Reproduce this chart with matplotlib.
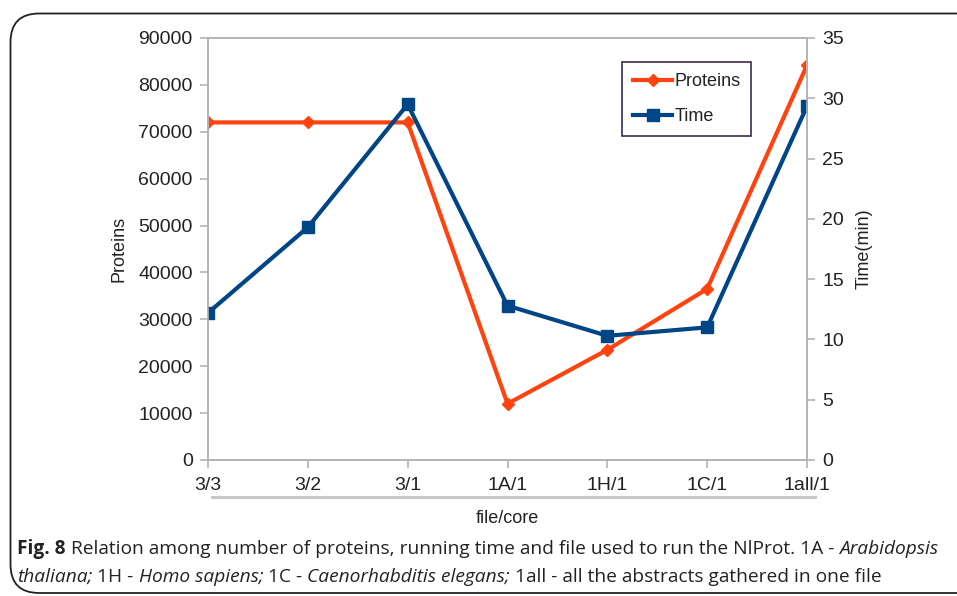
import numpy as np
import matplotlib.pyplot as plt
from matplotlib.patches import FancyBboxPatch
from matplotlib.lines import Line2D

categories = ['3/3', '3/2', '3/1', '1A/1', '1H/1', '1C/1', '1all/1']
proteins = [72000, 72000, 72000, 12000, 23500, 36500, 84200]
time_min = [12.2, 19.3, 29.5, 12.8, 10.3, 11.0, 29.35]

orange = '#FF420E'
blue = '#004586'
gray = '#b3b3b3'
txt = '#222222'

W, H = 957, 596
plt.rcParams['font.family'] = ['Liberation Sans', 'DejaVu Sans']
fig = plt.figure(figsize=(W / 100, H / 100), dpi=100)

# rounded frame around figure
frame = FancyBboxPatch((10.5 / W, 3 / H), 1.2, (H - 13.5 - 3) / H,
                       boxstyle='round,pad=0,rounding_size=0.03',
                       transform=fig.transFigure, fill=False,
                       edgecolor='#222222', linewidth=1.3, mutation_aspect=W / H)
fig.patches.append(frame)

ax = fig.add_axes([208 / W, 1 - 460 / H, (807 - 208) / W, (460 - 38) / H])
ax2 = ax.twinx()
x = np.arange(len(categories))

ax.plot(x, proteins, color=orange, lw=3, marker='D', ms=6, label='Proteins')
ax2.plot(x, time_min, color=blue, lw=3, marker='s', ms=9, label='Time')

ax.set_xlim(0, len(categories) - 1)
ax.set_ylim(0, 90000)
ax2.set_ylim(0, 35)
ax.set_yticks(np.arange(0, 90001, 10000))
ax2.set_yticks(np.arange(0, 36, 5))
ax.set_xticks(x)
ax.set_xticklabels(categories)

for a in (ax, ax2):
    for s in a.spines.values():
        s.set_color(gray)
        s.set_linewidth(1.2)
    a.tick_params(colors=gray, labelcolor=txt, labelsize=14, length=6, width=1.2, pad=5)
    a.patch.set_visible(False)
ax.tick_params(axis='x', pad=6)

ax.set_ylabel('Proteins', fontsize=13, color=txt, labelpad=8)
ax2.set_ylabel('Time(min)', fontsize=13, color=txt, labelpad=8)
ax.set_xlabel('file/core', fontsize=13, color=txt, labelpad=12)

# line under category labels
fig.add_artist(Line2D([212 / W, 815 / W], [1 - 497 / H] * 2, color='#c8c8c8', lw=2.2))

handles = [Line2D([], [], color=orange, lw=3, marker='D', ms=6),
           Line2D([], [], color=blue, lw=3, marker='s', ms=9)]
leg = ax2.legend(handles, ['Proteins', 'Time'], loc='upper left',
                 bbox_to_anchor=(0.691, 0.943), borderaxespad=0, fancybox=False,
                 fontsize=13, handlelength=2.2, handletextpad=0.1,
                 labelspacing=1.0, borderpad=0.6, framealpha=1)
leg.get_frame().set_edgecolor('#3c2b4b')
leg.get_frame().set_linewidth(1.2)
for t in leg.get_texts():
    t.set_color(txt)

# caption with mixed styles
renderer = fig.canvas.get_renderer()
cap_font = ['Open Sans', 'DejaVu Sans']
cap_size = 13.8


def put_segments(segs, x0, y0):
    xp = x0
    for s, weight, style in segs:
        t = fig.text(xp / W, 1 - y0 / H, s, fontsize=cap_size, family=cap_font,
                     fontweight=weight, fontstyle=style, color='#222222',
                     va='center', ha='left')
        bb = t.get_window_extent(renderer=renderer)
        xp += bb.width


line1 = [('Fig. 8', 'bold', 'normal'),
         (' Relation among number of proteins, running time and file used to run the NlProt. 1A - ', 'normal', 'normal'),
         ('Arabidopsis', 'normal', 'italic')]
line2 = [('thaliana;', 'normal', 'italic'), (' 1H - ', 'normal', 'normal'),
         ('Homo sapiens;', 'normal', 'italic'), (' 1C - ', 'normal', 'normal'),
         ('Caenorhabditis elegans;', 'normal', 'italic'),
         (' 1all - all the abstracts gathered in one file', 'normal', 'normal')]
put_segments(line1, 17, 549)
put_segments(line2, 17, 577)

fig.savefig('out.png', dpi=100)
